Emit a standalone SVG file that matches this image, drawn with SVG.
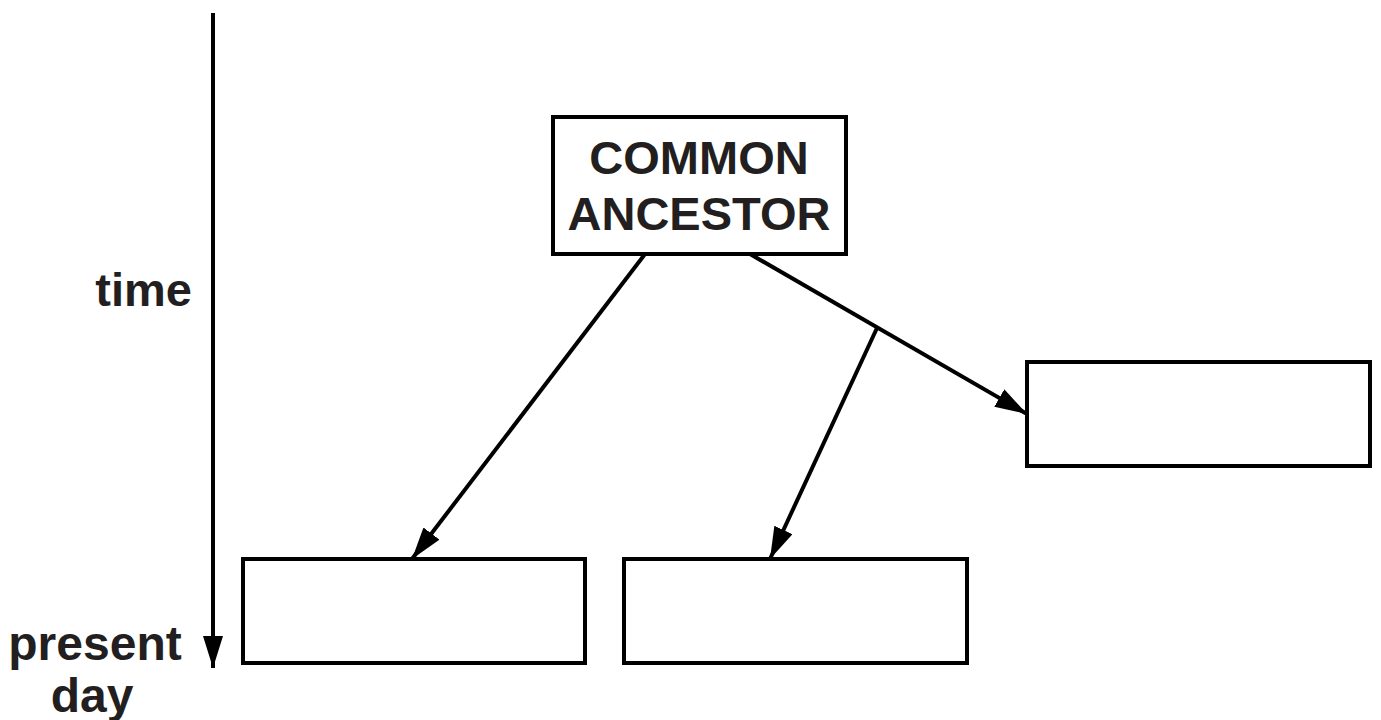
<svg xmlns="http://www.w3.org/2000/svg" width="1381" height="720" viewBox="0 0 1381 720">
  <style>
    .box { fill: #ffffff; stroke: #000000; stroke-width: 4; }
    .line { fill: none; stroke: #000000; stroke-width: 4; }
    .lbl { font-family: "Liberation Sans", Arial, sans-serif; font-weight: bold; fill: #231f20; }
  </style>
  <defs>
    <marker id="headBig" viewBox="0 0 32 20" refX="32" refY="10" markerWidth="32" markerHeight="20" markerUnits="userSpaceOnUse" orient="auto">
      <path d="M0,0 L32,10 L0,20 z" fill="#000000"/>
    </marker>
  </defs>

  <!-- time axis -->
  <g id="time-axis">
    <line class="line" x1="213" y1="13" x2="213" y2="668" marker-end="url(#headBig)"/>
    <text class="lbl" x="192" y="306" font-size="47" text-anchor="end">time</text>
    <text class="lbl" x="95" y="660" font-size="48" text-anchor="middle">present</text>
    <text class="lbl" x="92" y="712" font-size="48" text-anchor="middle">day</text>
  </g>

  <!-- connectors -->
  <g id="connectors">
    <line class="line" x1="645" y1="254" x2="412" y2="559" marker-end="url(#headBig)"/>
    <line class="line" x1="750" y1="254" x2="1027" y2="414" marker-end="url(#headBig)"/>
    <line class="line" x1="877" y1="328" x2="770" y2="559" marker-end="url(#headBig)"/>
  </g>

  <g id="common-ancestor">
    <rect class="box" x="553" y="117" width="293" height="137"/>
    <text class="lbl" x="699" y="174" font-size="47" text-anchor="middle">COMMON</text>
    <text class="lbl" x="699" y="230" font-size="47" text-anchor="middle">ANCESTOR</text>
  </g>

  <g id="descendant-right">
    <rect class="box" x="1027" y="362" width="343" height="104"/>
  </g>

  <g id="descendant-left">
    <rect class="box" x="243" y="559" width="342" height="104"/>
  </g>

  <g id="descendant-middle">
    <rect class="box" x="624" y="559" width="343" height="104"/>
  </g>
</svg>
